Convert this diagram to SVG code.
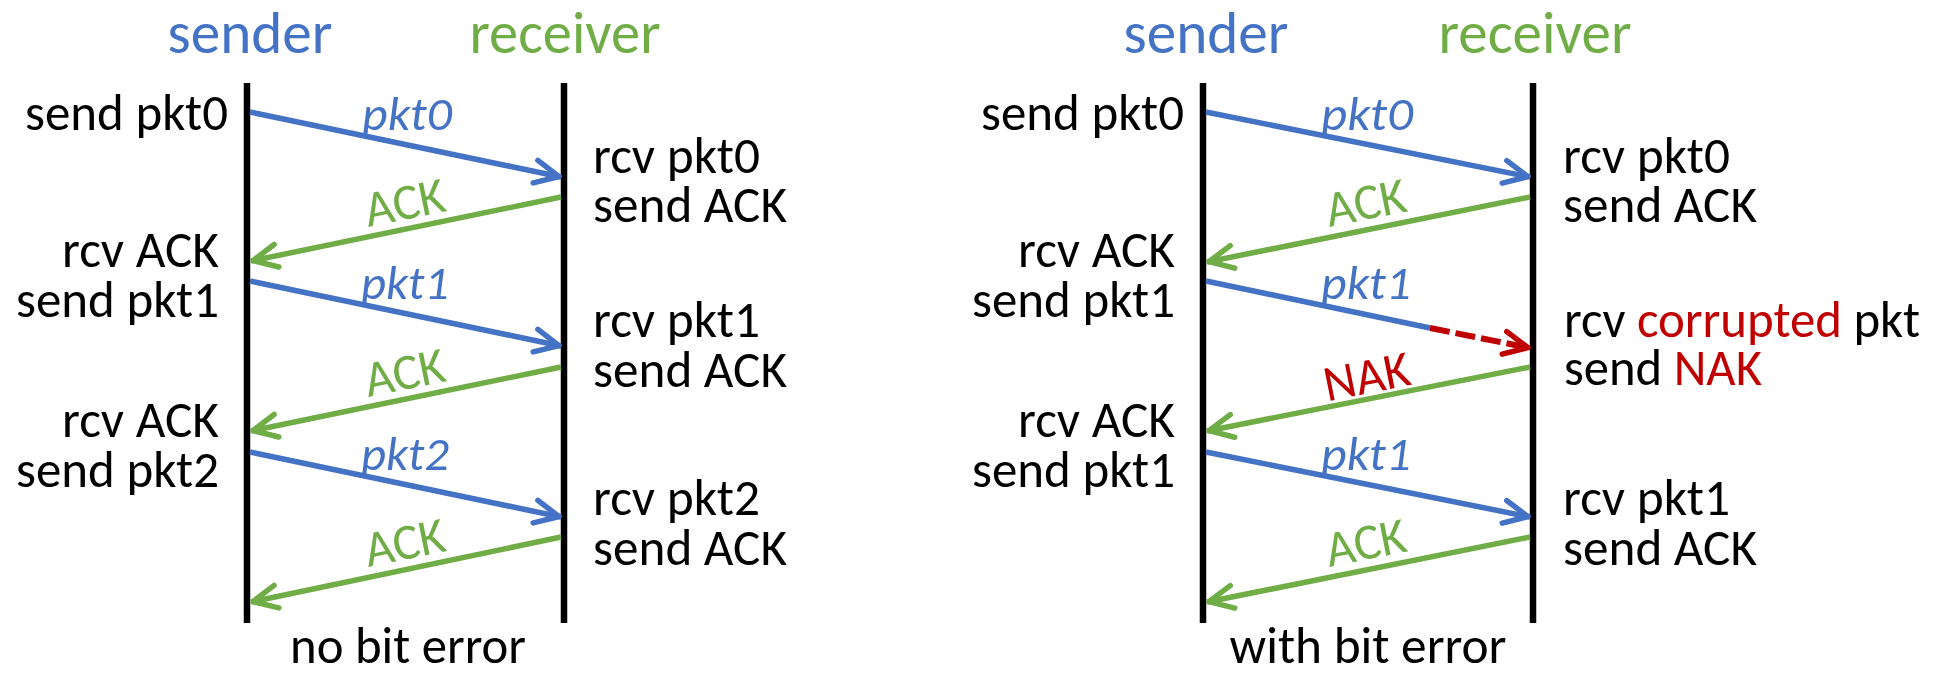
<svg xmlns="http://www.w3.org/2000/svg" width="1936" height="680" viewBox="0 0 1936 680">
<style>
  text { font-family: Carlito, Calibri, Lato, "Open Sans", sans-serif; font-size: 51px; fill: #000000; }
  .title { font-size: 59px; text-anchor: middle; }
  .blue { fill: #4472C4; }
  .green { fill: #70AD47; }
  .red { fill: #C00000; }
  .end { text-anchor: end; }
  .mid { text-anchor: middle; }
  .lbl { font-style: italic; font-size: 48px; text-anchor: middle; }
  .life { stroke: #000000; stroke-width: 6.5; }
  .pkt { stroke: #4472C4; stroke-width: 5.5; fill: none; }
  .pkta { marker-end: url(#ab); }
  .ack { stroke: #70AD47; stroke-width: 5.5; fill: none; marker-end: url(#ag); }
  .bad { stroke: #C00000; stroke-width: 6; fill: none; stroke-dasharray: 20 6; marker-end: url(#ar); }
  .head { fill: none; stroke-width: 5.5; stroke-linecap: round; stroke-linejoin: round; }
</style>
<defs>
  <marker id="ab" markerUnits="userSpaceOnUse" viewBox="-30 -20 40 40" markerWidth="40" markerHeight="40" refX="0" refY="0" orient="auto" overflow="visible">
    <path class="head" d="M-26,-11.5 L-2,0 L-26,11.5" stroke="#4472C4"/>
  </marker>
  <marker id="ag" markerUnits="userSpaceOnUse" viewBox="-30 -20 40 40" markerWidth="40" markerHeight="40" refX="0" refY="0" orient="auto" overflow="visible">
    <path class="head" d="M-26,-11.5 L-2,0 L-26,11.5" stroke="#70AD47"/>
  </marker>
  <marker id="ar" markerUnits="userSpaceOnUse" viewBox="-30 -20 40 40" markerWidth="40" markerHeight="40" refX="0" refY="0" orient="auto" overflow="visible">
    <path class="head" d="M-26,-11.5 L-2,0 L-26,11.5" stroke="#C00000" stroke-width="6"/>
  </marker>
</defs>
<rect width="1936" height="680" fill="#ffffff"/>

<!-- Left panel: no bit error -->
<g id="left-sender">
  <text class="title blue" x="250" y="53" textLength="165" lengthAdjust="spacingAndGlyphs">sender</text>
  <line class="life" x1="247" y1="83" x2="247" y2="623"/>
</g>
<g id="left-receiver">
  <text class="title green" x="565" y="53" textLength="191" lengthAdjust="spacingAndGlyphs">receiver</text>
  <line class="life" x1="564" y1="83" x2="564" y2="623"/>
</g>
<g id="left-sender-events">
  <text class="end" x="228" y="130" textLength="203" lengthAdjust="spacingAndGlyphs">send pkt0</text>
  <text class="end" x="219" y="267" textLength="157" lengthAdjust="spacingAndGlyphs">rcv ACK</text>
  <text class="end" x="219" y="317" textLength="203" lengthAdjust="spacingAndGlyphs">send pkt1</text>
  <text class="end" x="219" y="437" textLength="157" lengthAdjust="spacingAndGlyphs">rcv ACK</text>
  <text class="end" x="219" y="487" textLength="203" lengthAdjust="spacingAndGlyphs">send pkt2</text>
</g>
<g id="left-receiver-events">
  <text x="593" y="173" textLength="167" lengthAdjust="spacingAndGlyphs">rcv pkt0</text>
  <text x="593" y="222" textLength="194" lengthAdjust="spacingAndGlyphs">send ACK</text>
  <text x="593" y="337" textLength="167" lengthAdjust="spacingAndGlyphs">rcv pkt1</text>
  <text x="593" y="387" textLength="194" lengthAdjust="spacingAndGlyphs">send ACK</text>
  <text x="593" y="515" textLength="167" lengthAdjust="spacingAndGlyphs">rcv pkt2</text>
  <text x="593" y="565" textLength="194" lengthAdjust="spacingAndGlyphs">send ACK</text>
</g>
<g id="left-caption">
  <text class="mid" x="408" y="663" textLength="236" lengthAdjust="spacingAndGlyphs">no bit error</text>
</g>

<!-- Right panel: with bit error -->
<g id="right-sender">
  <text class="title blue" x="1206" y="53" textLength="165" lengthAdjust="spacingAndGlyphs">sender</text>
  <line class="life" x1="1203" y1="83" x2="1203" y2="623"/>
</g>
<g id="right-receiver">
  <text class="title green" x="1535" y="53" textLength="193" lengthAdjust="spacingAndGlyphs">receiver</text>
  <line class="life" x1="1533" y1="83" x2="1533" y2="623"/>
</g>
<g id="right-sender-events">
  <text class="end" x="1184" y="130" textLength="203" lengthAdjust="spacingAndGlyphs">send pkt0</text>
  <text class="end" x="1175" y="267" textLength="157" lengthAdjust="spacingAndGlyphs">rcv ACK</text>
  <text class="end" x="1175" y="317" textLength="203" lengthAdjust="spacingAndGlyphs">send pkt1</text>
  <text class="end" x="1175" y="437" textLength="157" lengthAdjust="spacingAndGlyphs">rcv ACK</text>
  <text class="end" x="1175" y="487" textLength="203" lengthAdjust="spacingAndGlyphs">send pkt1</text>
</g>
<g id="right-receiver-events">
  <text x="1563" y="173" textLength="167" lengthAdjust="spacingAndGlyphs">rcv pkt0</text>
  <text x="1563" y="222" textLength="194" lengthAdjust="spacingAndGlyphs">send ACK</text>
  <text x="1564" y="337" textLength="356" lengthAdjust="spacingAndGlyphs">rcv <tspan class="red">corrupted</tspan> pkt</text>
  <text x="1564" y="385" textLength="198" lengthAdjust="spacingAndGlyphs">send <tspan class="red">NAK</tspan></text>
  <text x="1563" y="515" textLength="167" lengthAdjust="spacingAndGlyphs">rcv pkt1</text>
  <text x="1563" y="565" textLength="194" lengthAdjust="spacingAndGlyphs">send ACK</text>
</g>
<g id="right-caption">
  <text class="mid" x="1368" y="663" textLength="277" lengthAdjust="spacingAndGlyphs">with bit error</text>
</g>

<!-- Connectors -->
<g id="connectors">
  <line class="pkt pkta" x1="250" y1="112" x2="561" y2="177"/>
  <line class="ack" x1="561" y1="197" x2="251" y2="261"/>
  <line class="pkt pkta" x1="250" y1="281" x2="561" y2="346"/>
  <line class="ack" x1="561" y1="367" x2="251" y2="431"/>
  <line class="pkt pkta" x1="250" y1="452" x2="561" y2="517"/>
  <line class="ack" x1="561" y1="537" x2="251" y2="602"/>

  <line class="pkt pkta" x1="1206" y1="112" x2="1530" y2="177"/>
  <line class="ack" x1="1530" y1="197" x2="1207" y2="262"/>
  <line class="pkt" x1="1206" y1="281" x2="1430" y2="328"/>
  <line class="bad" x1="1430" y1="328" x2="1530" y2="348"/>
  <line class="ack" x1="1530" y1="367" x2="1207" y2="431"/>
  <line class="pkt pkta" x1="1206" y1="452" x2="1530" y2="517"/>
  <line class="ack" x1="1530" y1="537" x2="1207" y2="602"/>
</g>

<!-- Connector labels -->
<g id="connector-labels">
  <text class="lbl blue" x="407" y="130" textLength="90" lengthAdjust="spacingAndGlyphs">pkt0</text>
  <text class="mid green" transform="translate(408,219) rotate(-11.5)" textLength="81" lengthAdjust="spacingAndGlyphs">ACK</text>
  <text class="lbl blue" x="405" y="299" textLength="88" lengthAdjust="spacingAndGlyphs">pkt1</text>
  <text class="mid green" transform="translate(408,389) rotate(-11.5)" textLength="81" lengthAdjust="spacingAndGlyphs">ACK</text>
  <text class="lbl blue" x="405" y="470" textLength="88" lengthAdjust="spacingAndGlyphs">pkt2</text>
  <text class="mid green" transform="translate(408,559) rotate(-11.5)" textLength="81" lengthAdjust="spacingAndGlyphs">ACK</text>

  <text class="lbl blue" x="1367" y="130" textLength="92" lengthAdjust="spacingAndGlyphs">pkt0</text>
  <text class="mid green" transform="translate(1369,219) rotate(-11.3)" textLength="81" lengthAdjust="spacingAndGlyphs">ACK</text>
  <text class="lbl blue" x="1366" y="299" textLength="90" lengthAdjust="spacingAndGlyphs">pkt1</text>
  <text class="mid red" transform="translate(1370,393) rotate(-11.3)" textLength="87" lengthAdjust="spacingAndGlyphs">NAK</text>
  <text class="lbl blue" x="1366" y="470" textLength="90" lengthAdjust="spacingAndGlyphs">pkt1</text>
  <text class="mid green" transform="translate(1369,559) rotate(-11.3)" textLength="81" lengthAdjust="spacingAndGlyphs">ACK</text>
</g>
</svg>
